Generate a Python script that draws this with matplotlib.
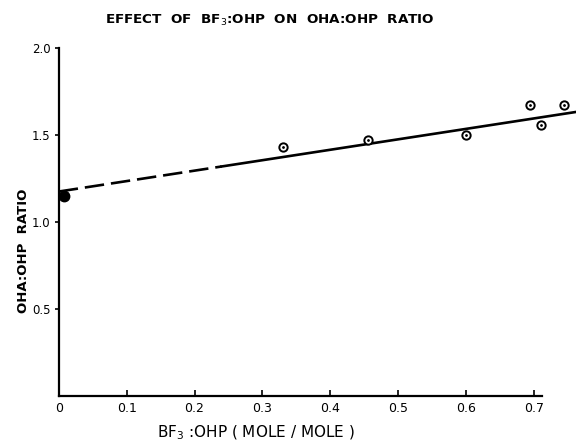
import matplotlib
matplotlib.use("Agg")
import matplotlib.pyplot as plt

plt.rcParams['font.family'] = ['DejaVu Sans']
plt.rcParams['lines.scale_dashes'] = False

# ----- data -----
bf3_ratio = [0.33, 0.455, 0.60, 0.695, 0.71, 0.745]
oha_ohp = [1.43, 1.47, 1.50, 1.67, 1.56, 1.67]

# reference point with no BF3 (filled)
ref_x = [0.007]
ref_y = [1.15]

# fitted line, dashed extrapolation then solid
dash_x = [0.0, 0.24]
dash_y = [1.175, 1.319]
solid_x = [0.24, 0.77]
solid_y = [1.319, 1.637]

xticks = [0, 0.1, 0.2, 0.3, 0.4, 0.5, 0.6, 0.7]
xtick_labels = ['0', '0.1', '0.2', '0.3', '0.4', '0.5', '0.6', '0.7']
yticks = [0.5, 1.0, 1.5, 2.0]
ytick_labels = ['0.5', '1.0', '1.5', '2.0']

fig = plt.figure(figsize=(5.76, 4.44), dpi=100)
ax = fig.add_axes([0.102, 0.108, 0.839, 0.784])

ax.plot(dash_x, dash_y, color='black', lw=1.9, dashes=(14, 5), clip_on=False)
ax.plot(solid_x, solid_y, color='black', lw=1.9, clip_on=False)
ax.plot(bf3_ratio, oha_ohp, 'o', ms=6, mfc='white', mec='black', mew=1.4, clip_on=False)
ax.plot(bf3_ratio, oha_ohp, '.', ms=2, color='black', clip_on=False)
ax.plot(ref_x, ref_y, 'o', ms=7.5, color='black', clip_on=False)

ax.set_xlim(0, 0.712)
ax.set_ylim(0, 2.0)
ax.spines['top'].set_visible(False)
ax.spines['right'].set_visible(False)
ax.spines['left'].set_linewidth(1.6)
ax.spines['bottom'].set_linewidth(1.6)

ax.set_xticks(xticks)
ax.set_xticklabels(xtick_labels, fontsize=9)
ax.set_yticks(yticks)
ax.set_yticklabels(ytick_labels, fontsize=8.5)
ax.tick_params(axis='x', direction='in', length=4, width=1.2, pad=4)
ax.tick_params(axis='y', direction='out', length=3, width=1.2, pad=3)

fig.text(0.469, 0.955, 'EFFECT  OF  BF$_3$:OHP  ON  OHA:OHP  RATIO',
         ha='center', va='center', fontsize=9.7, fontweight='bold')
fig.text(0.444, 0.025, 'BF$_3$ :OHP ( MOLE / MOLE )', ha='center', va='center',
         fontsize=11)
fig.text(0.04, 0.435, 'OHA:OHP  RATIO', ha='center', va='center',
         rotation=90, fontsize=9.5, fontweight='bold')

fig.savefig('out.png', dpi=100)
